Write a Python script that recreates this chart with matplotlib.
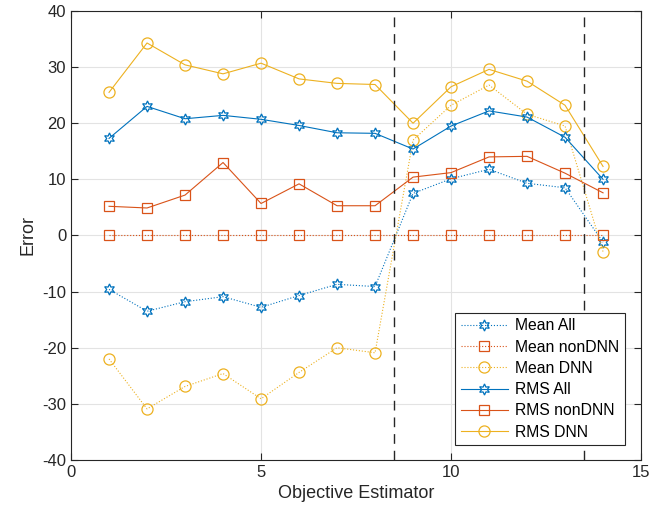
import numpy as np
import matplotlib.pyplot as plt

plt.rcParams['font.family'] = ['Liberation Sans', 'DejaVu Sans']
plt.rcParams['axes.unicode_minus'] = False

x = np.arange(1, 15)
mean_all = [-9.6, -13.5, -11.8, -10.9, -12.8, -10.7, -8.7, -9.1, 7.5, 10.1, 11.8, 9.3, 8.5, -1.2]
mean_nondnn = [0, 0, 0, 0, 0, 0, 0, 0, 0, 0, 0, 0, 0, 0]
mean_dnn = [-22.0, -30.9, -26.9, -24.6, -29.1, -24.4, -20.0, -20.9, 17.0, 23.2, 26.8, 21.6, 19.5, -2.9]
rms_all = [17.3, 23.0, 20.8, 21.4, 20.7, 19.6, 18.3, 18.2, 15.4, 19.5, 22.2, 21.1, 17.5, 10.0]
rms_nondnn = [5.2, 4.9, 7.2, 13.0, 5.7, 9.2, 5.3, 5.3, 10.4, 11.2, 14.0, 14.1, 11.1, 7.6]
rms_dnn = [25.5, 34.3, 30.4, 28.8, 30.7, 27.9, 27.1, 26.9, 20.0, 26.5, 29.6, 27.5, 23.2, 12.3]
splits = [8.5, 13.5]

c1 = '#0072BD'
c2 = '#D95319'
c3 = '#EDB120'
hexa = (6, 1, 0)

fig = plt.figure(figsize=(6.67, 5.18), dpi=100)
ax = fig.add_axes([0.1065, 0.112, 0.8546, 0.8668])

kw = dict(lw=0.8, mfc='none', mew=0.9)
ax.plot(x, mean_all, ':', color=c1, marker=hexa, ms=8, label='Mean All', **kw)
ax.plot(x, mean_nondnn, ':', color=c2, marker='s', ms=7, label='Mean nonDNN', **kw)
ax.plot(x, mean_dnn, ':', color=c3, marker='o', ms=8, label='Mean DNN', **kw)
ax.plot(x, rms_all, '-', color=c1, marker=hexa, ms=8, label='RMS All', **kw)
ax.plot(x, rms_nondnn, '-', color=c2, marker='s', ms=7, label='RMS nonDNN', **kw)
ax.plot(x, rms_dnn, '-', color=c3, marker='o', ms=8, label='RMS DNN', **kw)

for s in splits:
    ax.axvline(s, color='#262626', ls=(0, (7, 5)), lw=1.0)

ax.set_xlim(0, 15)
ax.set_ylim(-40, 40)
ax.set_xticks([0, 5, 10, 15])
ax.set_yticks(np.arange(-40, 41, 10))
ax.grid(True, color='#e3e3e3', lw=0.8)
ax.set_axisbelow(True)
ax.tick_params(direction='in', top=True, right=True, labelsize=12, colors='#262626', length=5)
for sp in ax.spines.values():
    sp.set_color('#262626')
    sp.set_linewidth(0.8)
ax.set_xlabel('Objective Estimator', fontsize=13, color='#262626')
ax.set_ylabel('Error', fontsize=13, color='#262626')

leg = ax.legend(loc='lower right', bbox_to_anchor=(0.972, 0.033), borderaxespad=0,
                fontsize=11.3, fancybox=False, framealpha=1, edgecolor='#262626',
                handlelength=3.0, labelspacing=0.4, borderpad=0.35, handletextpad=0.5)
leg.get_frame().set_linewidth(0.8)

fig.savefig('out.png', dpi=100)
